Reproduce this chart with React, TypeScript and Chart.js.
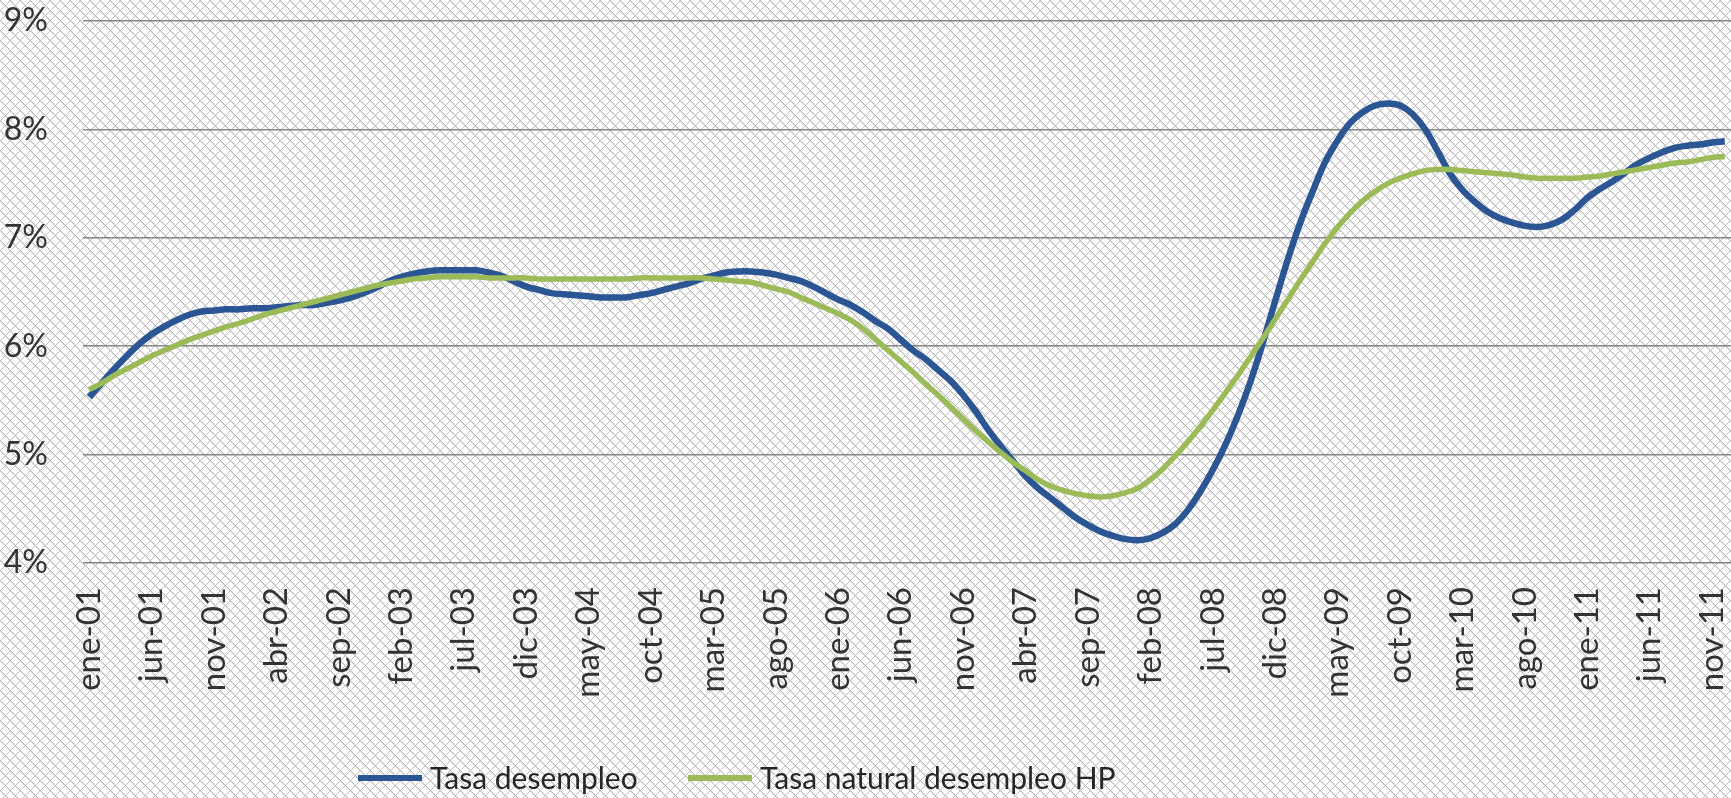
import React, { useEffect, useRef } from 'react';
import { Chart, registerables } from 'chart.js';

Chart.register(...registerables);

const MONTHS = ['ene', 'feb', 'mar', 'abr', 'may', 'jun', 'jul', 'ago', 'sep', 'oct', 'nov', 'dic'];
const YEARS = ['01', '02', '03', '04', '05', '06', '07', '08', '09', '10', '11'];
const categories: string[] = YEARS.flatMap((y) => MONTHS.map((m) => `${m}-${y}`));

const tasaDesempleo = [
  5.53, 5.66, 5.79, 5.91, 6.02, 6.11, 6.18, 6.24, 6.29, 6.32,
  6.33, 6.34, 6.34, 6.35, 6.35, 6.36, 6.37, 6.38, 6.38, 6.40,
  6.42, 6.45, 6.49, 6.54, 6.60, 6.64, 6.67, 6.69, 6.70, 6.70,
  6.70, 6.70, 6.68, 6.65, 6.60, 6.55, 6.52, 6.49, 6.48, 6.47,
  6.46, 6.45, 6.45, 6.45, 6.47, 6.49, 6.52, 6.55, 6.58, 6.62,
  6.65, 6.68, 6.69, 6.69, 6.68, 6.66, 6.63, 6.60, 6.55, 6.49,
  6.43, 6.38, 6.31, 6.23, 6.16, 6.06, 5.96, 5.88, 5.78, 5.68,
  5.55, 5.40, 5.23, 5.08, 4.94, 4.80, 4.69, 4.60, 4.51, 4.42,
  4.35, 4.29, 4.25, 4.22, 4.21, 4.23, 4.28, 4.36, 4.49, 4.66,
  4.86, 5.09, 5.36, 5.67, 6.03, 6.42, 6.80, 7.14, 7.43, 7.70,
  7.90, 8.06, 8.16, 8.22, 8.24, 8.22, 8.14, 8.00, 7.80, 7.59,
  7.44, 7.33, 7.24, 7.18, 7.14, 7.11, 7.10, 7.12, 7.17, 7.26,
  7.37, 7.45, 7.52, 7.60, 7.68, 7.74, 7.79, 7.83, 7.85, 7.86,
  7.88, 7.89,
];

const tasaNaturalHP = [
  5.60, 5.66, 5.73, 5.79, 5.85, 5.91, 5.96, 6.01, 6.06, 6.10,
  6.14, 6.18, 6.21, 6.25, 6.29, 6.32, 6.35, 6.38, 6.41, 6.44,
  6.47, 6.50, 6.53, 6.56, 6.58, 6.60, 6.62, 6.63, 6.64, 6.64,
  6.64, 6.64, 6.63, 6.63, 6.63, 6.63, 6.62, 6.62, 6.62, 6.62,
  6.62, 6.62, 6.62, 6.62, 6.63, 6.63, 6.63, 6.63, 6.63, 6.63,
  6.62, 6.61, 6.60, 6.59, 6.56, 6.53, 6.50, 6.45, 6.40, 6.35,
  6.30, 6.24, 6.16, 6.06, 5.96, 5.86, 5.76, 5.65, 5.55, 5.44,
  5.33, 5.22, 5.12, 5.02, 4.93, 4.85, 4.77, 4.71, 4.67, 4.64,
  4.62, 4.61, 4.62, 4.65, 4.69, 4.77, 4.87, 4.99, 5.12, 5.26,
  5.41, 5.57, 5.73, 5.90, 6.07, 6.25, 6.43, 6.61, 6.78, 6.95,
  7.10, 7.23, 7.34, 7.43, 7.50, 7.55, 7.59, 7.62, 7.63, 7.63,
  7.62, 7.61, 7.60, 7.59, 7.58, 7.56, 7.55, 7.55, 7.55, 7.55,
  7.56, 7.57, 7.59, 7.61, 7.63, 7.65, 7.67, 7.69, 7.70, 7.72,
  7.74, 7.75,
];

const seriesLabels = ['Tasa desempleo', 'Tasa natural desempleo HP'];
const seriesColors = ['#2B5593', '#9BBB59'];
const Y_MIN = 4;
const Y_MAX = 9;
const Y_STEP = 1;
const LABEL_EVERY = 5;

const FONT = 'Lato, "Open Sans", sans-serif';
const W = 1731;
const H = 798;

const hatchPlugin = {
  id: 'hatchBackground',
  beforeDraw(chart: any) {
    const ctx = chart.ctx as CanvasRenderingContext2D;
    const tile = document.createElement('canvas');
    const n = 10;
    tile.width = n;
    tile.height = n;
    const t = tile.getContext('2d')!;
    t.fillStyle = '#ffffff';
    t.fillRect(0, 0, n, n);
    t.fillStyle = '#bcbcbc';
    for (let k = 0; k < n; k++) {
      t.fillRect(k, k, 1, 1);
      t.fillRect(k, (n - k) % n, 1, 1);
    }
    t.fillStyle = '#dddddd';
    for (let k = 0; k < n; k++) {
      t.fillRect(k, (k + 1) % n, 1, 1);
    }
    const pattern = ctx.createPattern(tile, 'repeat');
    ctx.save();
    if (pattern) ctx.fillStyle = pattern;
    ctx.fillRect(0, 0, chart.width, chart.height);
    ctx.restore();
  },
};

const legendPlugin = {
  id: 'bottomLegend',
  afterDraw(chart: any) {
    const ctx = chart.ctx as CanvasRenderingContext2D;
    const y = 778;
    const starts = [358, 688];
    ctx.save();
    ctx.font = `30px ${FONT}`;
    ctx.textBaseline = 'middle';
    ctx.textAlign = 'left';
    chart.data.datasets.forEach((ds: any, i: number) => {
      const x0 = starts[i];
      ctx.strokeStyle = ds.borderColor;
      ctx.lineWidth = 6;
      ctx.lineCap = 'butt';
      ctx.beginPath();
      ctx.moveTo(x0, y);
      ctx.lineTo(x0 + 64, y);
      ctx.stroke();
      ctx.fillStyle = '#262626';
      ctx.fillText(ds.label, x0 + 72, y + 1);
    });
    ctx.restore();
  },
};

export default function App() {
  const ref = useRef<HTMLCanvasElement | null>(null);

  useEffect(() => {
    if (!ref.current) return;
    const chart = new Chart(ref.current, {
      type: 'line',
      data: {
        labels: categories,
        datasets: [
          {
            label: seriesLabels[0],
            data: tasaDesempleo,
            borderColor: seriesColors[0],
            backgroundColor: seriesColors[0],
            borderWidth: 6.5,
            pointRadius: 0,
            tension: 0.4,
            fill: false,
            order: 1,
          },
          {
            label: seriesLabels[1],
            data: tasaNaturalHP,
            borderColor: seriesColors[1],
            backgroundColor: seriesColors[1],
            borderWidth: 5.5,
            pointRadius: 0,
            tension: 0.4,
            fill: false,
            order: 0,
          },
        ],
      },
      options: {
        responsive: false,
        animation: false,
        layout: { padding: { top: 21, right: 0, left: 0, bottom: 0 } },
        plugins: {
          legend: { display: false },
          tooltip: { enabled: false },
        },
        scales: {
          x: {
            type: 'category',
            offset: true,
            grid: { display: false, drawTicks: false },
            border: { display: false },
            ticks: {
              autoSkip: false,
              minRotation: 90,
              maxRotation: 90,
              padding: 24,
              color: '#333333',
              font: { family: FONT, size: 33 },
              callback: (_v: any, idx: number) => (idx % LABEL_EVERY === 0 ? categories[idx] : null),
            },
            afterFit: (scale: any) => {
              scale.height = H - 563;
              scale.paddingLeft = 0;
              scale.paddingRight = 0;
            },
          },
          y: {
            min: Y_MIN,
            max: Y_MAX,
            grid: { color: '#858585', lineWidth: 1.5, drawTicks: false },
            border: { display: false },
            ticks: {
              stepSize: Y_STEP,
              padding: 35,
              color: '#333333',
              font: { family: FONT, size: 32 },
              callback: (v: any) => `${v}%`,
            },
            afterFit: (scale: any) => {
              scale.width = 83;
              scale.paddingTop = 0;
              scale.paddingBottom = 0;
            },
          },
        },
      },
      plugins: [hatchPlugin, legendPlugin],
    });
    return () => chart.destroy();
  }, []);

  return (
    <div style={{ position: 'absolute', left: 0, top: 0, width: W, height: H }}>
      <canvas ref={ref} width={W} height={H} style={{ display: 'block', width: W, height: H }} />
    </div>
  );
}
